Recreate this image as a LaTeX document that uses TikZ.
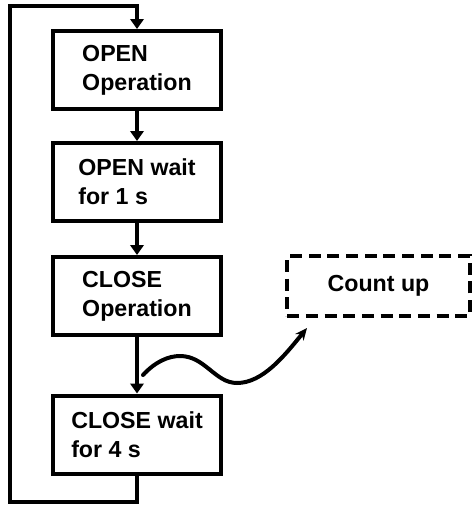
\documentclass[tikz,border=0pt]{standalone}
\usepackage{fontspec}
\setmainfont{Liberation Sans}
\usetikzlibrary{arrows.meta, positioning}

\begin{document}
\begin{tikzpicture}[
    x=0.75pt, y=-0.75pt,
    line width=3pt,
    >={Triangle[length=7.5pt, width=10pt]},
    stepbox/.style={draw, rectangle, minimum width=126pt, minimum height=58.5pt,
      align=left, inner sep=0pt},
    countbox/.style={draw, rectangle, dashed, dash pattern=on 9pt off 5pt,
      minimum width=137pt, minimum height=45pt, inner sep=0pt},
    every node/.style={font=\fontsize{17.4}{21.75}\selectfont\bfseries}
  ]
  \useasboundingbox (0,0) rectangle (475,508);
  % ---- steps ----
  \node[stepbox] (openop)    at (137,70)    {OPEN\\Operation};
  \node[stepbox] (openwait)  at (137,182)   {OPEN wait\\for 1 s};
  \node[stepbox] (closeop)   at (137,296)   {CLOSE\\Operation};
  \node[stepbox] (closewait) at (137,434.5) {CLOSE wait\\for 4 s};

  % ---- counter ----
  \node[countbox] (count) at (378.5,286) {Count up};

  % Arrows
  \draw[->] (openop) -- (openwait);
  \draw[->] (openwait) -- (closeop);
  \draw[->] (closeop) -- (closewait);
  \draw[->] (closewait.south) -- (137,502) -| (10,6) -| (openop.north);

  % Wavy arrow to counter
  \coordinate (wavestart) at (143,375);
  \coordinate (waveend) at (307,328);
  \draw[-{Stealth[length=9pt, width=8pt]}, line cap=round] (wavestart)
    .. controls (155,362) and (168,356) .. (180,356)
    .. controls (205,356) and (215,383) .. (237,383)
    .. controls (263,383) and (285,355) .. (waveend);
\end{tikzpicture}
\end{document}
